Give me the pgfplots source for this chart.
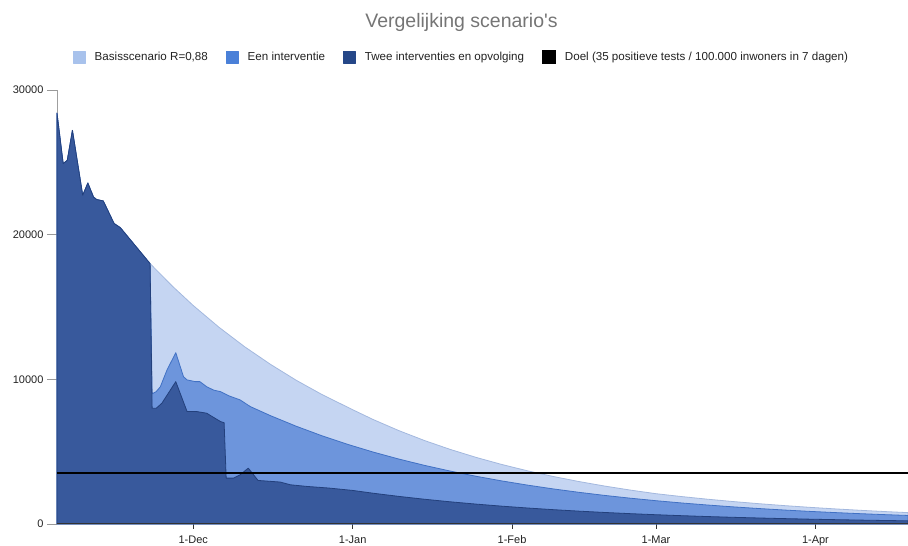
\documentclass[border=0pt]{standalone}
\usepackage{fontspec}
\setmainfont{Liberation Sans}
\usepackage{pgfplots}
\pgfplotsset{compat=1.18}
\definecolor{lightA}{HTML}{C5D5F2}
\definecolor{lightE}{HTML}{A3B8DE}
\definecolor{lightL}{HTML}{A8C2EC}
\definecolor{medA}{HTML}{6D95DC}
\definecolor{medE}{HTML}{4171C4}
\definecolor{medL}{HTML}{4A80D8}
\definecolor{darkA}{HTML}{38599C}
\definecolor{darkE}{HTML}{23407C}
\definecolor{darkL}{HTML}{254788}
\definecolor{titlegray}{HTML}{757575}
\definecolor{txt}{HTML}{222222}
\begin{document}
\begin{tikzpicture}
\begin{axis}[name=ax, scale only axis, width=851pt, height=434pt,
  xmin=-26.5, xmax=139, ymin=0, ymax=30000, clip=false,
  scaled y ticks=false, scaled x ticks=false,
  axis lines=left, axis line style={-}, x axis line style={draw=none},
  y axis line style={draw=gray!75, line width=0.8pt},
  xtick={0,31,62,90,121}, xticklabels={1-Dec,1-Jan,1-Feb,1-Mar,1-Apr},
  ytick={0,10000,20000,30000}, yticklabels={0,10000,20000,30000},
  tick align=outside, major tick length=10pt,
  xtick style={draw=black!80, line width=0.8pt, yshift=5pt},
  ytick style={draw=gray!80, line width=0.8pt},
  xticklabel style={font=\fontsize{11}{13}\selectfont, text=txt, yshift=2pt},
  yticklabel style={font=\fontsize{11}{13}\selectfont, text=txt},
  legend columns=4,
  legend style={draw=none, fill=none, at={(0.4753,1.076)}, anchor=center,
    font=\fontsize{11.6}{14}\selectfont, text=txt,
    /tikz/every odd column/.append style={column sep=7pt},
    /tikz/every even column/.append style={column sep=16pt}},
  legend cell align=left,
]
% Basisscenario
\addplot[draw=lightE, fill=lightA, line width=0.8pt, line join=round,
  legend image code/.code={\fill[lightL] (0pt,-6pt) rectangle (12pt,6pt);}]
 coordinates {(-26.5,28400) (-25.3,24910) (-24.5,25140) (-23.5,27210) (-21.5,22720) (-20.5,23570) (-19.4,22600) (-18.8,22430) (-17.5,22330) (-15.4,20770) (-14.2,20490) (-8.4,18000)
 (-4,16420) (0,15100) (5,13600) (10,12250) (15,11040) (20,9940) (25,8955) (31,7900) (35,7220) (40,6452) (45,5765) (50,5152) (55,4604) (60,4114) (65,3676) (70,3285) (75,2935) (80,2623) (85,2344) (90,2094) (95,1895) (100,1714) (105,1551) (110,1404) (115,1270) (120,1149) (125,1040) (130,941) (135,851) (139,786)} \closedcycle;
\addlegendentry{Basisscenario R=0,88}
% Een interventie
\addplot[draw=medE, fill=medA, line width=0.8pt, line join=round,
  legend image code/.code={\fill[medL] (0pt,-6pt) rectangle (12pt,6pt);}]
 coordinates {(-26.5,28400) (-25.3,24910) (-24.5,25140) (-23.5,27210) (-21.5,22720) (-20.5,23570) (-19.4,22600) (-18.8,22430) (-17.5,22330) (-15.4,20770) (-14.2,20490) (-8.4,18000)
 (-8.0,9000) (-7.2,9150) (-6.4,9490) (-5.1,10650) (-3.4,11840) (-1.9,10180) (-1.2,9960) (0.4,9840) (1.3,9840) (2.6,9490) (4,9250) (5.3,9150) (7,8850) (9.1,8580) (11.1,8115)
 (15,7491) (20,6761) (25,6102) (30,5508) (35,4971) (40,4487) (45,4050) (50,3656) (55,3299) (60,2978) (65,2688) (70,2426) (75,2190) (80,1976) (85,1784) (90,1610) (95,1453) (100,1312) (105,1184) (110,1069) (115,964) (120,870) (125,786) (130,709) (135,640) (139,590)} \closedcycle;
\addlegendentry{Een interventie}
% Twee interventies
\addplot[draw=darkE, fill=darkA, line width=0.8pt, line join=round,
  legend image code/.code={\fill[darkL] (0pt,-6pt) rectangle (12pt,6pt);}]
 coordinates {(-26.5,28400) (-25.3,24910) (-24.5,25140) (-23.5,27210) (-21.5,22720) (-20.5,23570) (-19.4,22600) (-18.8,22430) (-17.5,22330) (-15.4,20770) (-14.2,20490) (-8.4,18000)
 (-8.0,8000) (-7.2,8000) (-6.1,8350) (-3.4,9840) (-1.2,7770) (0.7,7770) (2.6,7660) (5.3,7080) (6.0,7000)
 (6.4,3170) (7.8,3170) (9.1,3400) (10.7,3860) (12.6,3010) (16.9,2900) (18.9,2710) (22,2600) (26.4,2484) (31,2320)
 (35,2126) (40,1907) (45,1710) (50,1533) (55,1375) (60,1233) (65,1106) (70,991) (75,889) (80,797) (85,715) (90,641) (95,575) (100,515) (105,462) (110,415) (115,372) (120,333) (125,299) (130,268) (135,240) (139,220)} \closedcycle;
\addlegendentry{Twee interventies en opvolging}
% Doel
\addplot[black, line width=1.8pt,
  legend image code/.code={\fill[black] (0pt,-6pt) rectangle (12pt,6pt);}]
 coordinates {(-26.5,3517) (139,3517)};
\addlegendentry{Doel (35 positieve tests / 100.000 inwoners in 7 dagen)}
\draw[black!80, line width=1pt] (axis cs:-26.5,0) -- (axis cs:139,0);
\end{axis}
\node[font=\fontsize{19.5}{23}\selectfont, text=titlegray] at ([xshift=404.5pt,yshift=68pt]ax.north west) {Vergelijking scenario\textquotesingle s};
\pgfresetboundingbox
\path[use as bounding box] ([xshift=-57pt,yshift=-22pt]ax.south west) rectangle ([yshift=90pt]ax.north east);
\end{tikzpicture}
\end{document}
